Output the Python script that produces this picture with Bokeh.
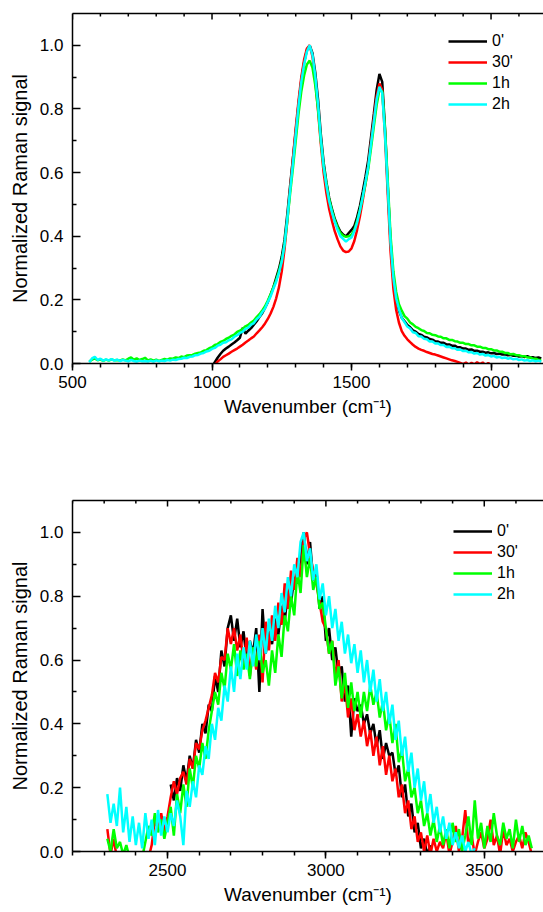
import numpy as np
from bokeh.plotting import figure
from bokeh.models import LinearAxis, FixedTicker, PrintfTickFormatter, Legend, LegendItem, Range1d
from bokeh.layouts import column
from bokeh.embed import file_html
from bokeh.resources import INLINE

N = None

# ---------------- data: D and G band region (upper panel) ----------------
wavenumber_dg = list(range(560, 2190, 10))

dg_0min = ([N] * 40 +
    [N, N, N, N, -0.010, 0.004, 0.018, 0.030, 0.040, 0.047] +
    [0.053, 0.060, 0.066, 0.073, 0.081, 0.112, 0.094, 0.103, 0.111, 0.122] +
    [0.133, 0.146, 0.158, 0.175, 0.193, 0.216, 0.240, 0.269, 0.298, 0.336] +
    [0.390, 0.470, 0.560, 0.645, 0.730, 0.815, 0.890, 0.945, 0.985, 1.000] +
    [0.975, 0.915, 0.830, 0.720, 0.632, 0.570, 0.520, 0.485, 0.455, 0.432] +
    [0.415, 0.405, 0.400, 0.410, 0.420, 0.432, 0.460, 0.495, 0.540, 0.588] +
    [0.640, 0.712, 0.785, 0.860, 0.910, 0.885, 0.740, 0.555, 0.380, 0.265] +
    [0.200, 0.166, 0.144, 0.133, 0.121, 0.114, 0.104, 0.100, 0.093, 0.090] +
    [0.084, 0.082, 0.077, 0.075, 0.070, 0.069, 0.065, 0.065, 0.060, 0.060] +
    [0.056, 0.056, 0.051, 0.051, 0.047, 0.047, 0.043, 0.044, 0.040, 0.040] +
    [0.037, 0.037, 0.034, 0.035, 0.032, 0.033, 0.030, 0.031, 0.028, 0.029] +
    [0.026, 0.027, 0.024, 0.025, 0.022, 0.023, 0.020, 0.023, 0.019, 0.020] +
    [0.017, 0.019, 0.016])

dg_30min = ([N] * 40 +
    [N, N, N, N, N, -0.005, 0.006, 0.013, 0.021, 0.026] +
    [0.031, 0.037, 0.042, 0.047, 0.053, 0.059, 0.066, 0.072, 0.079, 0.085] +
    [0.095, 0.104, 0.114, 0.126, 0.140, 0.157, 0.178, 0.205, 0.240, 0.290] +
    [0.360, 0.450, 0.550, 0.645, 0.740, 0.825, 0.900, 0.955, 0.990, 1.000] +
    [0.965, 0.890, 0.795, 0.690, 0.600, 0.535, 0.485, 0.448, 0.415, 0.390] +
    [0.368, 0.355, 0.350, 0.352, 0.362, 0.385, 0.420, 0.462, 0.512, 0.565] +
    [0.622, 0.695, 0.770, 0.840, 0.880, 0.860, 0.715, 0.530, 0.350, 0.235] +
    [0.168, 0.128, 0.102, 0.087, 0.076, 0.067, 0.059, 0.052, 0.047, 0.043] +
    [0.040, 0.036, 0.033, 0.030, 0.028, 0.025, 0.022, 0.019, 0.016, 0.013] +
    [0.010, 0.008, 0.005, 0.002, -0.002, 0.003, -0.004, 0.002, -0.003, 0.004] +
    [-0.002, 0.003, -0.005, 0.002, -0.006, -0.003, -0.008, -0.010, -0.012, -0.015] +
    [N] * 13)

dg_1h = (
    [0.006, 0.012, 0.016, 0.010, 0.013, 0.008, 0.012, 0.009, 0.013, 0.010] +
    [0.011, 0.009, 0.013, 0.010, 0.015, 0.019, 0.012, 0.016, 0.011, 0.014] +
    [0.018, 0.010, 0.013, 0.009, 0.012, 0.008, 0.011, 0.014, 0.012, 0.016] +
    [0.015, 0.019, 0.017, 0.022, 0.020, 0.025, 0.026, 0.027, 0.031, 0.033] +
    [0.035, 0.040, 0.042, 0.048, 0.051, 0.058, 0.061, 0.068, 0.071, 0.077] +
    [0.081, 0.087, 0.091, 0.099, 0.103, 0.109, 0.117, 0.121, 0.129, 0.135] +
    [0.146, 0.155, 0.167, 0.180, 0.198, 0.218, 0.239, 0.262, 0.290, 0.324] +
    [0.375, 0.450, 0.535, 0.615, 0.700, 0.785, 0.855, 0.905, 0.940, 0.952] +
    [0.930, 0.875, 0.800, 0.700, 0.620, 0.565, 0.515, 0.480, 0.450, 0.428] +
    [0.410, 0.402, 0.398, 0.400, 0.405, 0.420, 0.448, 0.482, 0.522, 0.565] +
    [0.612, 0.678, 0.745, 0.812, 0.860, 0.855, 0.735, 0.570, 0.400, 0.290] +
    [0.225, 0.186, 0.166, 0.149, 0.141, 0.129, 0.123, 0.115, 0.111, 0.105] +
    [0.102, 0.096, 0.095, 0.090, 0.089, 0.085, 0.084, 0.079, 0.079, 0.074] +
    [0.074, 0.070, 0.069, 0.065, 0.065, 0.061, 0.061, 0.057, 0.057, 0.053] +
    [0.053, 0.049, 0.049, 0.045, 0.045, 0.041, 0.041, 0.037, 0.037, 0.033] +
    [0.033, 0.029, 0.030, 0.026, 0.026, 0.023, 0.023, 0.019, 0.019, 0.015] +
    [0.015, 0.011, 0.011])

dg_2h = (
    [0.004, 0.016, 0.021, 0.011, 0.015, 0.009, 0.013, 0.010, 0.014, 0.009] +
    [0.012, 0.008, 0.011, 0.009, 0.007, 0.011, 0.008, 0.006, 0.009, 0.007] +
    [0.008, 0.006, 0.009, 0.006, 0.010, 0.007, 0.009, 0.008, 0.011, 0.009] +
    [0.012, 0.011, 0.014, 0.015, 0.018, 0.017, 0.021, 0.022, 0.026, 0.027] +
    [0.031, 0.033, 0.038, 0.040, 0.046, 0.049, 0.056, 0.059, 0.065, 0.067] +
    [0.073, 0.076, 0.084, 0.089, 0.096, 0.100, 0.109, 0.113, 0.122, 0.127] +
    [0.139, 0.147, 0.161, 0.173, 0.193, 0.211, 0.235, 0.257, 0.286, 0.320] +
    [0.375, 0.455, 0.545, 0.630, 0.720, 0.810, 0.885, 0.940, 0.980, 1.000] +
    [0.970, 0.905, 0.815, 0.705, 0.620, 0.560, 0.510, 0.475, 0.445, 0.420] +
    [0.400, 0.392, 0.383, 0.391, 0.396, 0.416, 0.443, 0.481, 0.523, 0.571] +
    [0.620, 0.690, 0.760, 0.830, 0.870, 0.850, 0.720, 0.550, 0.380, 0.270] +
    [0.205, 0.170, 0.143, 0.130, 0.116, 0.110, 0.098, 0.096, 0.086, 0.085] +
    [0.078, 0.076, 0.069, 0.069, 0.063, 0.063, 0.058, 0.058, 0.052, 0.053] +
    [0.048, 0.048, 0.043, 0.044, 0.039, 0.040, 0.035, 0.036, 0.031, 0.033] +
    [0.028, 0.030, 0.025, 0.027, 0.022, 0.024, 0.019, 0.021, 0.017, 0.019] +
    [0.015, 0.017, 0.013, 0.015, 0.011, 0.013, 0.009, 0.011, 0.008, 0.010] +
    [0.007, 0.009, 0.006])

# ---------------- data: 2D band region (lower panel) ----------------
wavenumber_2d = list(range(2310, 3660, 10))

b2d_0min = ([N] * 20 +
    [0.21, 0.16, 0.23, 0.19, 0.27, 0.22, 0.30, 0.26, 0.35, 0.31] +
    [0.40, 0.37, 0.46, 0.44, 0.55, 0.50, 0.63, 0.58, 0.70, 0.74] +
    [0.66, 0.73, 0.64, 0.69, 0.60, 0.66, 0.62, 0.70, 0.50, 0.76] +
    [0.62, 0.69, 0.65, 0.73, 0.68, 0.77, 0.72, 0.82, 0.78, 0.86] +
    [0.84, 0.93, 1.00, 0.90, 0.97, 0.85, 0.88, 0.76, 0.80, 0.66] +
    [0.70, 0.60, 0.64, 0.55, 0.58, 0.47, 0.52, 0.36, 0.48, 0.44] +
    [0.46, 0.40, 0.43, 0.37, 0.40, 0.33, 0.38, 0.29, 0.34, 0.30] +
    [0.31, 0.24, 0.27, 0.17, 0.21, 0.11, 0.15, 0.06, 0.09, 0.01] +
    [0.04, -0.01, 0.02] + [N] * 32)

b2d_30min = (
    [0.07, -0.01, 0.04, -0.02, -0.02, -0.02, -0.02, -0.02, -0.02, -0.02] +
    [-0.02, -0.02, -0.02, -0.02, 0.02, 0.10, 0.07, 0.12, 0.06, 0.11] +
    [0.17, 0.22, 0.18, 0.23, 0.25, 0.21, 0.29, 0.26, 0.34, 0.32] +
    [0.38, 0.41, 0.45, 0.49, 0.56, 0.53, 0.61, 0.60, 0.70, 0.65] +
    [0.70, 0.63, 0.68, 0.59, 0.67, 0.55, 0.64, 0.57, 0.68, 0.53] +
    [0.72, 0.63, 0.74, 0.66, 0.78, 0.71, 0.84, 0.76, 0.88, 0.82] +
    [0.92, 0.86, 0.98, 1.00, 0.93, 0.88, 0.84, 0.78, 0.72, 0.70] +
    [0.62, 0.66, 0.55, 0.60, 0.47, 0.53, 0.42, 0.48, 0.38, 0.43] +
    [0.36, 0.41, 0.33, 0.38, 0.30, 0.36, 0.27, 0.33, 0.24, 0.30] +
    [0.22, 0.26, 0.17, 0.21, 0.12, 0.16, 0.07, 0.11, 0.03, 0.06] +
    [0.00, 0.05, -0.01, 0.04, 0.00, 0.03, 0.01, 0.06, -0.01, 0.03] +
    [0.08, 0.00, 0.04, 0.13, 0.02, 0.05, -0.01, 0.03, 0.06, 0.01] +
    [0.04, 0.10, 0.02, 0.05, -0.01, 0.07, 0.02, 0.04, 0.00, 0.03] +
    [0.05, 0.01, 0.06, 0.03, -0.01])

b2d_1h = (
    [0.04, 0.00, 0.07, 0.01, 0.03, -0.01, 0.02, -0.02, -0.02, -0.02] +
    [-0.02, -0.02, 0.03, 0.08, 0.05, 0.12, 0.06, 0.10, 0.04, 0.09] +
    [0.14, 0.05, 0.18, 0.12, 0.21, 0.14, 0.26, 0.20, 0.30, 0.26] +
    [0.34, 0.29, 0.38, 0.44, 0.50, 0.46, 0.56, 0.51, 0.62, 0.57] +
    [0.65, 0.55, 0.63, 0.57, 0.62, 0.54, 0.64, 0.58, 0.66, 0.56] +
    [0.60, 0.52, 0.63, 0.56, 0.68, 0.61, 0.74, 0.69, 0.80, 0.74] +
    [0.88, 0.81, 0.96, 0.86, 0.92, 0.82, 0.86, 0.76, 0.78, 0.70] +
    [0.62, 0.66, 0.52, 0.58, 0.48, 0.56, 0.45, 0.53, 0.44, 0.50] +
    [0.42, 0.50, 0.44, 0.52, 0.46, 0.50, 0.42, 0.47, 0.38, 0.43] +
    [0.34, 0.40, 0.28, 0.32, 0.22, 0.26, 0.17, 0.20, 0.12, 0.16] +
    [0.08, 0.12, 0.05, 0.10, 0.03, 0.08, 0.02, 0.07, 0.01, 0.09] +
    [0.03, 0.07, 0.00, 0.05, 0.11, 0.02, 0.16, 0.04, 0.09, 0.01] +
    [0.08, 0.03, 0.12, 0.05, 0.02, 0.09, 0.04, 0.07, 0.01, 0.10] +
    [0.03, 0.08, 0.02, 0.05, 0.01])

b2d_2h = (
    [0.18, 0.09, 0.15, 0.08, 0.20, 0.06, 0.14, 0.03, 0.11, 0.02] +
    [0.09, 0.01, 0.12, 0.04, 0.10, 0.02, 0.13, 0.05, 0.11, 0.06] +
    [0.12, 0.08, 0.16, 0.11, 0.02, 0.19, 0.14, 0.22, 0.17, 0.27] +
    [0.24, 0.33, 0.29, 0.40, 0.35, 0.45, 0.41, 0.52, 0.47, 0.58] +
    [0.50, 0.62, 0.54, 0.64, 0.57, 0.66, 0.58, 0.68, 0.60, 0.70] +
    [0.62, 0.73, 0.66, 0.77, 0.70, 0.81, 0.75, 0.86, 0.80, 0.90] +
    [0.86, 0.97, 1.00, 0.91, 0.95, 0.85, 0.90, 0.79, 0.84, 0.74] +
    [0.80, 0.70, 0.76, 0.66, 0.72, 0.62, 0.68, 0.59, 0.65, 0.56] +
    [0.63, 0.53, 0.60, 0.50, 0.57, 0.47, 0.54, 0.44, 0.50, 0.40] +
    [0.46, 0.35, 0.41, 0.30, 0.36, 0.25, 0.31, 0.20, 0.26, 0.16] +
    [0.22, 0.12, 0.18, 0.09, 0.14, 0.06, 0.11, 0.04, 0.09, 0.02] +
    [0.06, 0.01, 0.05, 0.00, 0.03, -0.01, 0.01] + [N] * 18)

series_labels = ["0'", "30'", "1h", "2h"]
series_colors = ["#000000", "#ff0000", "#00ff00", "#00ffff"]

dg_major_ticks = [500, 1000, 1500, 2000]
dg_minor_ticks = list(range(500, 2201, 100))
b2d_major_ticks = [2500, 3000, 3500]
b2d_minor_ticks = list(range(2200, 3701, 100))
y_major_ticks = [0.0, 0.2, 0.4, 0.6, 0.8, 1.0]
y_minor_ticks = [0.1, 0.3, 0.5, 0.7, 0.9]
Y_MAX = 1.1

for arr in (dg_0min, dg_30min, dg_1h, dg_2h):
    assert len(arr) == len(wavenumber_dg), len(arr)
for arr in (b2d_0min, b2d_30min, b2d_1h, b2d_2h):
    assert len(arr) == len(wavenumber_2d), len(arr)

FONT = "Liberation Sans"


def build(x, ys, xr, xmaj, xmin, height, btop, bbot, legend_xy):
    p = figure(width=543, height=height, x_range=Range1d(*xr), y_range=Range1d(0, Y_MAX),
               output_backend="svg", toolbar_location=None,
               min_border_left=72, min_border_right=0,
               min_border_top=btop, min_border_bottom=bbot)
    p.outline_line_color = None
    p.xgrid.visible = False
    p.ygrid.visible = False
    p.background_fill_color = "white"
    p.border_fill_color = "white"

    xa = np.array(x, dtype=float)
    rends = []
    for y, c in zip(ys, series_colors):
        rends.append(p.line(xa, np.array(y, dtype=float), line_color=c, line_width=2.5))

    # inward ticks along the top frame edge
    frame_h = height - btop - bbot
    lmaj = 6 * Y_MAX / frame_h
    lmin = 3 * Y_MAX / frame_h
    minors = [t for t in xmin if t not in xmaj and xr[0] <= t <= xr[1]]
    p.segment(x0=minors, y0=[Y_MAX] * len(minors), x1=minors, y1=[Y_MAX - lmin] * len(minors),
              line_color="black", line_width=1.5)
    p.segment(x0=xmaj, y0=[Y_MAX] * len(xmaj), x1=xmaj, y1=[Y_MAX - lmaj] * len(xmaj),
              line_color="black", line_width=1.5)

    items = [LegendItem(label=lab, renderers=[r]) for lab, r in zip(series_labels, rends)]
    leg = Legend(items=items, location=legend_xy, padding=0, spacing=1,
                 glyph_width=39, glyph_height=20, label_height=20, label_standoff=5,
                 label_text_font=FONT, label_text_font_size="16px", label_text_color="black",
                 border_line_color=None, background_fill_alpha=0)
    p.add_layout(leg)

    xa_ = p.xaxis[0]
    xa_.ticker = FixedTicker(ticks=xmaj, minor_ticks=xmin)
    xa_.axis_label = "Wavenumber (cm\u207b\u00b9)"
    ya_ = p.yaxis[0]
    ya_.ticker = FixedTicker(ticks=y_major_ticks, minor_ticks=y_minor_ticks)
    ya_.formatter = PrintfTickFormatter(format="%.1f")
    ya_.axis_label = "Normalized Raman signal"

    for ax in (xa_, ya_):
        ax.axis_line_width = 1.5
        ax.major_tick_line_width = 1.5
        ax.minor_tick_line_width = 1.5
        ax.axis_line_color = "black"
        ax.major_tick_line_color = "black"
        ax.minor_tick_line_color = "black"
        ax.major_label_text_font = FONT
        ax.major_label_text_font_size = "17px"
        ax.major_label_text_color = "black"
        ax.axis_label_text_font = FONT
        ax.axis_label_text_font_style = "normal"
        ax.axis_label_text_color = "black"

    xa_.major_tick_out = 7
    xa_.major_tick_in = 0
    xa_.minor_tick_out = 4
    xa_.minor_tick_in = 0
    xa_.major_label_standoff = 5
    xa_.axis_label_text_font_size = "19px"
    xa_.axis_label_standoff = 5

    ya_.major_tick_in = 8
    ya_.major_tick_out = 0
    ya_.minor_tick_in = 4
    ya_.minor_tick_out = 0
    ya_.major_label_standoff = 9
    ya_.axis_label_text_font_size = "20px"
    ya_.axis_label_standoff = 6

    top = LinearAxis(ticker=FixedTicker(ticks=[], minor_ticks=[]),
                     axis_line_width=1.5, axis_line_color="black",
                     major_tick_in=0, major_tick_out=0, minor_tick_in=0, minor_tick_out=0)
    p.add_layout(top, "above")
    return p


p1 = build(wavenumber_dg, [dg_0min, dg_30min, dg_1h, dg_2h], (500, 2188),
           dg_major_ticks, dg_minor_ticks, 450, 13, 87, (376, 249))
p2 = build(wavenumber_2d, [b2d_0min, b2d_30min, b2d_1h, b2d_2h], (2200, 3687),
           b2d_major_ticks, b2d_minor_ticks, 462, 50, 61, (381, 247))

layout = column(p1, p2, spacing=0)
open("out.html", "w").write(file_html(layout, INLINE))
